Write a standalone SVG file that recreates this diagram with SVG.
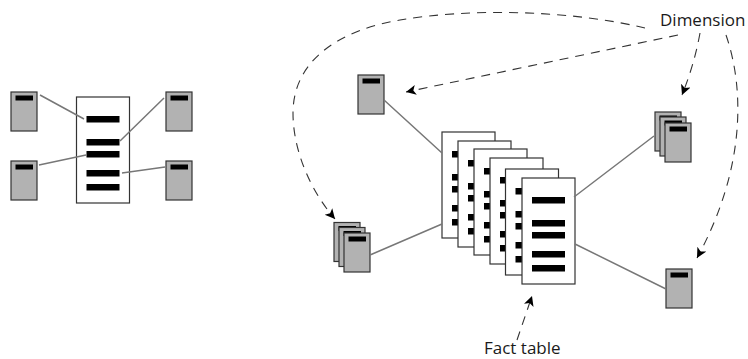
<svg xmlns="http://www.w3.org/2000/svg" width="748" height="359" viewBox="0 0 748 359">
<style>
.link{fill:none;stroke:#777;stroke-width:1.5}
.dash{fill:none;stroke:#333;stroke-width:1.1;stroke-dasharray:9 7;marker-end:url(#arrow)}
.dim{fill:#b2b2b2;stroke:#333;stroke-width:1.2}
.doc{fill:#fff;stroke:#333;stroke-width:1.2}
.label{font-family:"Open Sans","Noto Sans",sans-serif;font-size:17px;fill:#1a1a1a}
</style>
<defs>
<marker id="arrow" markerUnits="userSpaceOnUse" markerWidth="14" markerHeight="14" refX="10" refY="5" orient="auto">
<path d="M0 0L10 5L0 10L2.5 5Z" fill="#000"/>
</marker>
<g id="dimnode"><rect class="dim" width="26" height="39"/><rect x="4.500" y="3.500" width="17.500" height="5" fill="#000"/></g>
<g id="fact"><rect class="doc" width="53" height="106"/><rect x="10" y="19" width="33" height="6.500" fill="#000"/><rect x="10" y="42" width="33" height="6.500" fill="#000"/><rect x="10" y="54" width="33" height="6.500" fill="#000"/><rect x="10" y="73" width="33" height="6.500" fill="#000"/><rect x="10" y="87" width="33" height="6.500" fill="#000"/></g>
</defs>
<g id="dim-left-1"><use href="#dimnode" x="11" y="92"/></g>
<g id="dim-left-2"><use href="#dimnode" x="11" y="161"/></g>
<g id="dim-left-3"><use href="#dimnode" x="166" y="92"/></g>
<g id="dim-left-4"><use href="#dimnode" x="166" y="161"/></g>
<g id="fact-left"><use href="#fact" x="76.500" y="97"/></g>
<g id="dim-top"><use href="#dimnode" x="358" y="75"/></g>
<g id="dim-bottom"><use href="#dimnode" x="666" y="269"/></g>
<g id="dim-stack-left"><use href="#dimnode" x="334" y="222.500"/><use href="#dimnode" x="339" y="227.500"/><use href="#dimnode" x="344" y="233"/></g>
<g id="dim-stack-right"><use href="#dimnode" x="655" y="112"/><use href="#dimnode" x="660" y="117"/><use href="#dimnode" x="665" y="123"/></g>
<g id="fact-stack"><use href="#fact" x="442" y="132"/><use href="#fact" x="458" y="141"/><use href="#fact" x="474" y="149"/><use href="#fact" x="490" y="158"/><use href="#fact" x="505.500" y="169"/><use href="#fact" x="522" y="178"/></g>
<g id="connectors">
<path class="link" d="M40 95L84 119M120 141L164 98M39 165L86 155M122 173L165 167"/>
<path class="link" d="M384 100L442 153M370 255L442 224M574 197L654 136M575 244L666 289"/>
<path class="dash" d="M645 28C570 10 470 8 400 20C340 30 293 60 293 113C293 150 310 190 335 219"/>
<path class="dash" d="M678 35L406 92"/>
<path class="dash" d="M700 33C696 55 690 75 682 95"/>
<path class="dash" d="M726 35C745 90 745 170 697 258"/>
<path class="dash" d="M517 340L532 296"/>
</g>
<g id="label-dimension"><text class="label" x="660" y="26">Dimension</text></g>
<g id="label-fact"><text class="label" x="484" y="354">Fact table</text></g>
</svg>
